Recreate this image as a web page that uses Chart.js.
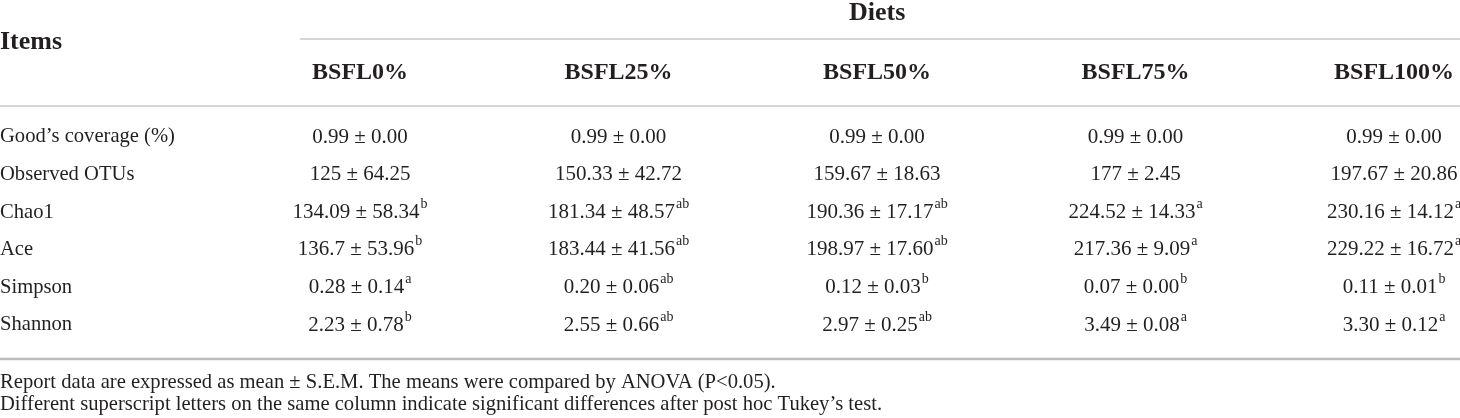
<!DOCTYPE html>
<html>
<head>
<meta charset="utf-8">
<script src="https://cdn.jsdelivr.net/npm/chart.js@4"></script>
<style>
  html, body { margin: 0; padding: 0; background: #fff; }
  #wrap { width: 1460px; height: 418px; }
</style>
</head>
<body>
<div id="wrap"><canvas id="tableChart" width="1460" height="418"></canvas></div>
<script>
// Table content
const diets = ["BSFL0%", "BSFL25%", "BSFL50%", "BSFL75%", "BSFL100%"]
const items = ["Good’s coverage (%)", "Observed OTUs", "Chao1", "Ace", "Simpson", "Shannon"]

const bsfl0 = ["0.99 ± 0.00", "125 ± 64.25", "134.09 ± 58.34", "136.7 ± 53.96", "0.28 ± 0.14", "2.23 ± 0.78"]
const bsfl25 = ["0.99 ± 0.00", "150.33 ± 42.72", "181.34 ± 48.57", "183.44 ± 41.56", "0.20 ± 0.06", "2.55 ± 0.66"]
const bsfl50 = ["0.99 ± 0.00", "159.67 ± 18.63", "190.36 ± 17.17", "198.97 ± 17.60", "0.12 ± 0.03", "2.97 ± 0.25"]
const bsfl75 = ["0.99 ± 0.00", "177 ± 2.45", "224.52 ± 14.33", "217.36 ± 9.09", "0.07 ± 0.00", "3.49 ± 0.08"]
const bsfl100 = ["0.99 ± 0.00", "197.67 ± 20.86", "230.16 ± 14.12", "229.22 ± 16.72", "0.11 ± 0.01", "3.30 ± 0.12"]

const bsfl0Sig = ["", "", "b", "b", "a", "b"]
const bsfl25Sig = ["", "", "ab", "ab", "ab", "ab"]
const bsfl50Sig = ["", "", "ab", "ab", "b", "ab"]
const bsfl75Sig = ["", "", "a", "a", "b", "a"]
const bsfl100Sig = ["", "", "a", "a", "b", "a"]

const columnTitle = "Diets"
const stubTitle = "Items"
const footnotes = [
  "Report data are expressed as mean ± S.E.M. The means were compared by ANOVA (P<0.05).",
  "Different superscript letters on the same column indicate significant differences after post hoc Tukey’s test.",
]

const cellValues = [bsfl0, bsfl25, bsfl50, bsfl75, bsfl100]
const cellSigs = [bsfl0Sig, bsfl25Sig, bsfl50Sig, bsfl75Sig, bsfl100Sig]

// layout in scale units (x: column index, y: row index)
const X_MIN = -1.393
const X_MAX = X_MIN + 1460 / 258.5
const Y_MIN = -137 / 37.6
const Y_MAX = Y_MIN + 418 / 37.6
const ROW_TITLE = -3.30
const ROW_STUB = -2.53
const ROW_HEAD = -1.70
const RULE_TOP = -2.606
const RULE_HEAD = -0.822
const RULE_BOTTOM = 5.905
const ROW_NOTE = [6.52, 7.13]
const RULE_TOP_START = -0.233

const serif = "'Liberation Serif', 'DejaVu Serif', serif"
const ink = "#231f20"

function rule(y, x0, width, color) {
  return {
    type: "line",
    kind: "rule",
    data: [{ x: x0, y: y }, { x: X_MAX, y: y }],
    borderColor: color,
    borderWidth: width,
    pointRadius: 0,
    clip: false,
  }
}

const datasets = [
  rule(RULE_TOP, RULE_TOP_START, 1.5, "#c9c9c9"),
  rule(RULE_HEAD, X_MIN, 1.5, "#c9c9c9"),
  rule(RULE_BOTTOM, X_MIN, 2.5, "#bdbdbd"),
  {
    kind: "title",
    texts: [columnTitle],
    data: [{ x: 2, y: ROW_TITLE }],
  },
  {
    kind: "stub",
    texts: [stubTitle],
    data: [{ x: X_MIN, y: ROW_STUB }],
  },
  {
    kind: "head",
    texts: diets,
    data: diets.map((d, i) => ({ x: i, y: ROW_HEAD })),
  },
  {
    kind: "item",
    texts: items,
    data: items.map((d, r) => ({ x: X_MIN, y: r })),
  },
  {
    kind: "note",
    texts: footnotes,
    data: footnotes.map((d, r) => ({ x: X_MIN, y: ROW_NOTE[r] })),
  },
]

diets.forEach((diet, i) => {
  datasets.push({
    kind: "cell",
    label: diet,
    texts: cellValues[i],
    sups: cellSigs[i],
    data: cellValues[i].map((v, r) => ({ x: i, y: r })),
  })
})

datasets.forEach((ds) => {
  if (ds.kind !== "rule") {
    ds.type = "scatter"
    ds.pointRadius = 0
    ds.clip = false
  }
})

const tableText = {
  id: "tableText",
  afterDatasetsDraw(chart) {
    const ctx = chart.ctx
    ctx.save()
    ctx.fillStyle = ink
    ctx.textBaseline = "middle"
    chart.data.datasets.forEach((ds, di) => {
      if (ds.kind === "rule") return
      const meta = chart.getDatasetMeta(di)
      meta.data.forEach((pt, k) => {
        const text = ds.texts[k]
        if (ds.kind === "title") {
          ctx.font = "bold 26px " + serif
          ctx.textAlign = "center"
          ctx.fillText(text, pt.x, pt.y)
        } else if (ds.kind === "head") {
          ctx.font = "bold 24px " + serif
          ctx.textAlign = "center"
          ctx.fillText(text, pt.x, pt.y)
        } else if (ds.kind === "stub") {
          ctx.font = "bold 26px " + serif
          ctx.textAlign = "left"
          ctx.fillText(text, pt.x, pt.y)
        } else if (ds.kind === "item") {
          ctx.font = "20.6px " + serif
          ctx.textAlign = "left"
          ctx.fillText(text, pt.x, pt.y)
        } else if (ds.kind === "note") {
          ctx.font = "20.6px " + serif
          ctx.textAlign = "left"
          ctx.fillText(text, pt.x, pt.y)
        } else if (ds.kind === "cell") {
          const sup = ds.sups[k]
          ctx.font = "21px " + serif
          const w = ctx.measureText(text).width
          ctx.font = "14px " + serif
          const sw = sup ? ctx.measureText(sup).width + 1 : 0
          const left = pt.x - (w + sw) / 2
          ctx.textAlign = "left"
          ctx.font = "21px " + serif
          ctx.fillText(text, left, pt.y)
          if (sup) {
            ctx.font = "14px " + serif
            ctx.fillText(sup, left + w + 1, pt.y - 8)
          }
        }
      })
    })
    ctx.restore()
  },
}

new Chart(document.getElementById("tableChart"), {
  data: { datasets: datasets },
  options: {
    responsive: false,
    animation: false,
    devicePixelRatio: 1,
    layout: { padding: 0 },
    events: [],
    plugins: {
      legend: { display: false },
      tooltip: { enabled: false },
    },
    scales: {
      x: { type: "linear", min: X_MIN, max: X_MAX, display: false },
      y: { type: "linear", min: Y_MIN, max: Y_MAX, reverse: true, display: false },
    },
  },
  plugins: [tableText],
})
</script>
</body>
</html>
